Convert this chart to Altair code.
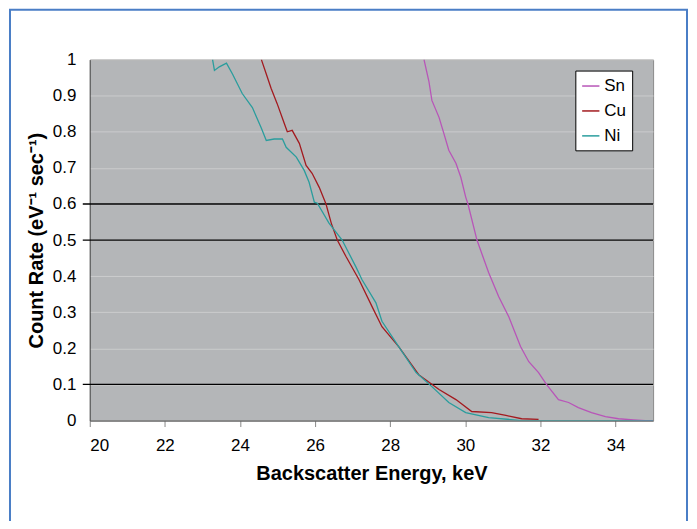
import altair as alt
import pandas as pd

# ---- data ----
sn_e = [28.90, 29.03, 29.11, 29.30, 29.43, 29.56, 29.75, 29.88, 30.01, 30.07, 30.31,
        30.62, 30.89, 31.16, 31.47, 31.69, 31.95, 32.16, 32.48, 32.75, 33.01, 33.36,
        33.73, 34.08, 34.48, 34.79, 35.0]
sn_v = [1.0, 0.94, 0.887, 0.84, 0.795, 0.749, 0.713, 0.674, 0.619, 0.60, 0.50,
        0.41, 0.343, 0.287, 0.205, 0.163, 0.133, 0.10, 0.058, 0.05, 0.036, 0.022,
        0.011, 0.005, 0.002, 0.0, 0.0]

cu_e = [24.57, 24.70, 24.83, 24.99, 25.18, 25.26, 25.39, 25.58, 25.76, 25.92, 26.11,
        26.29, 26.43, 26.59, 26.83, 27.17, 27.52, 27.78, 28.23, 28.76, 29.30, 29.75,
        30.17, 30.70, 31.08, 31.50, 31.95]
cu_v = [1.0, 0.96, 0.92, 0.878, 0.823, 0.80, 0.804, 0.768, 0.707, 0.685, 0.646,
        0.60, 0.547, 0.50, 0.453, 0.39, 0.315, 0.26, 0.204, 0.127, 0.086, 0.058,
        0.025, 0.022, 0.014, 0.005, 0.003]

ni_e = [23.27, 23.32, 23.45, 23.64, 23.80, 24.06, 24.33, 24.57, 24.70, 24.91, 25.13,
        25.23, 25.50, 25.71, 25.84, 25.98, 26.06, 26.37, 26.72, 27.09, 27.25, 27.62,
        27.78, 28.23, 28.69, 29.11, 29.56, 30.01, 30.62, 31.50, 35.0]
ni_v = [1.0, 0.97, 0.98, 0.99, 0.96, 0.906, 0.867, 0.81, 0.776, 0.78, 0.78,
        0.757, 0.73, 0.693, 0.66, 0.605, 0.602, 0.547, 0.50, 0.425, 0.39, 0.326,
        0.275, 0.204, 0.133, 0.094, 0.05, 0.022, 0.008, 0.0, 0.0]

series = ["Sn", "Cu", "Ni"]
colors = ["#b855b8", "#a31a1f", "#2a9d9d"]

black_lines = [0.1, 0.5, 0.6]
x_ticks = [20, 22, 24, 26, 28, 30, 32, 34]
y_ticks = [0, 0.1, 0.2, 0.3, 0.4, 0.5, 0.6, 0.7, 0.8, 0.9, 1]

rows = []
for name, es, vs in [("Sn", sn_e, sn_v), ("Cu", cu_e, cu_v), ("Ni", ni_e, ni_v)]:
    for i, (e, v) in enumerate(zip(es, vs)):
        rows.append({"series": name, "E": e, "v": v, "order": i})
df = pd.DataFrame(rows)

W, H = 565, 362
FONT = "Liberation Sans"

xscale = alt.Scale(domain=[20, 35], nice=False)
yscale = alt.Scale(domain=[0, 1], nice=False)

x_axis = alt.Axis(values=x_ticks, title="Backscatter Energy, keV", grid=False,
                  labelFontSize=17, titleFontSize=20, titleFontWeight="bold",
                  labelColor="#000", titleColor="#000", tickColor="#888",
                  tickSize=6, domainColor="#555", labelPadding=11, titlePadding=10,
                  labelFont=FONT, titleFont=FONT, labelOverlap=False)
y_axis = alt.Axis(values=y_ticks, format=".1~f", title="Count Rate (eV⁻¹ sec⁻¹)",
                  grid=True, gridColor="#cbcccd", gridWidth=1, ticks=False,
                  labelFontSize=17, titleFontSize=20, titleFontWeight="bold",
                  labelColor="#000", titleColor="#000", domainColor="#555",
                  labelPadding=14, titlePadding=6, labelOverlap=False,
                  labelFont=FONT, titleFont=FONT)

lines = alt.Chart(df).mark_line(strokeWidth=1.3, clip=True).encode(
    x=alt.X("E:Q", scale=xscale, axis=x_axis),
    y=alt.Y("v:Q", scale=yscale, axis=y_axis),
    color=alt.Color("series:N", scale=alt.Scale(domain=series, range=colors),
                    legend=alt.Legend(title=None, orient="none", legendX=487, legendY=11,
                                      fillColor="white", strokeColor="#000",
                                      padding=6, labelFontSize=17, symbolType="stroke",
                                      symbolSize=300, symbolStrokeWidth=1.5,
                                      labelFont=FONT, rowPadding=7,
                                      labelColor="#000", cornerRadius=0)),
    order="order:Q",
)

rules = alt.Chart(pd.DataFrame({"v": black_lines})).mark_rule(
    color="#000", strokeWidth=1.3
).encode(
    y=alt.Y("v:Q", scale=yscale, axis=y_axis),
    x=alt.value(-7),
    x2=alt.value(W),
)

border = alt.Chart(pd.DataFrame({"a": [0]})).mark_rect(
    fill=None, stroke="#4a7ec6", strokeWidth=2
).encode(
    x=alt.value(-80), x2=alt.value(W + 34),
    y=alt.value(-50), y2=alt.value(H + 120),
)

chart = alt.layer(border, rules, lines).properties(
    width=W, height=H,
    padding={"left": 82, "top": 51, "right": 36, "bottom": 100},
    autosize=alt.AutoSizeParams(type="none"),
    background="white",
).configure_view(
    fill="#b4b6b8", stroke="#8a8a8a", strokeWidth=1
)

chart.save("out.html", embed_options={"renderer": "svg", "actions": False})
